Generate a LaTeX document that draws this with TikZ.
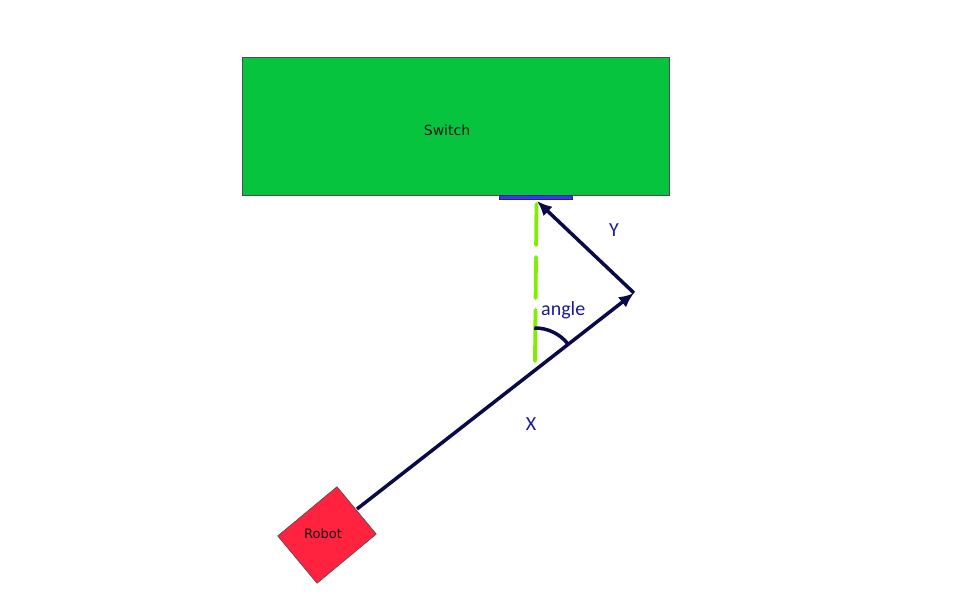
\documentclass[tikz,border=0pt]{standalone}
\usepackage{fontspec}
\newfontfamily\dejavu{DejaVu Sans}
\newfontfamily\carl{Carlito}
\definecolor{swgreen}{HTML}{07C43F}
\definecolor{robred}{HTML}{FF2340}
\definecolor{barblue}{HTML}{3838E8}
\definecolor{navy}{HTML}{0A0A48}
\definecolor{lblblue}{HTML}{1A1A9A}
\definecolor{lime}{HTML}{80EE00}
\usetikzlibrary{arrows.meta}
\tikzset{
  box/.style={draw=black!70, line width=0.6pt},
  vec/.style={draw=navy, line width=3.5pt, -{Latex[length=15pt,width=13pt]}},
  lbl/.style={text=lblblue, font=\carl\fontsize{20}{20}\selectfont, inner sep=1pt},
}
\begin{document}
\begin{tikzpicture}[x=1pt,y=-1pt]
\useasboundingbox (0,0) rectangle (964,596);
% switch
\node[box, fill=swgreen, minimum width=427pt, minimum height=138pt, anchor=north west, inner sep=0pt] (switch) at (242,57) {};
\node[font=\dejavu\fontsize{14}{14}\selectfont, text=black!90] (swlabel) at (447,130) {Switch};
% blue bar
\node[fill=barblue, draw=barblue!60!black, line width=0.4pt, minimum width=73pt, minimum height=4.5pt, inner sep=0pt] (bar) at (536,197) {};
% robot
\node[box, fill=robred, minimum width=77pt, minimum height=61.5pt, inner sep=0pt, rotate=39.7] (robot) at (327,535) {};
\node[font=\dejavu\fontsize{13}{13}\selectfont, text=black!90] (roblabel) at (323,534) {Robot};
% coordinates
\coordinate (xs) at (357,509);
\coordinate (p) at (634,293);
\coordinate (ytip) at (537,201);
\coordinate (gtop) at (536.5,204);
\coordinate (gbot) at (535,361);
\coordinate (c) at (535,370);
% green dashed line
\draw[lime, line width=3.8pt, line cap=round, dash pattern=on 41pt off 12pt on 41pt off 12pt on 60pt] (gtop) -- (gbot);
% label angle with white background
\node[lbl, fill=white, anchor=west] (anglelbl) at (540,310) {angle};
% vectors
\draw[vec] (xs) -- (p);
\draw[vec] (p) -- (ytip);
% angle arc
\draw[navy, line width=3.5pt] (c) ++(-91:42) arc[start angle=-91, end angle=-38, radius=42];
% labels
\node[lbl] (xlbl) at (531,424) {X};
\node[lbl] (ylbl) at (614,230) {Y};
\end{tikzpicture}
\end{document}
